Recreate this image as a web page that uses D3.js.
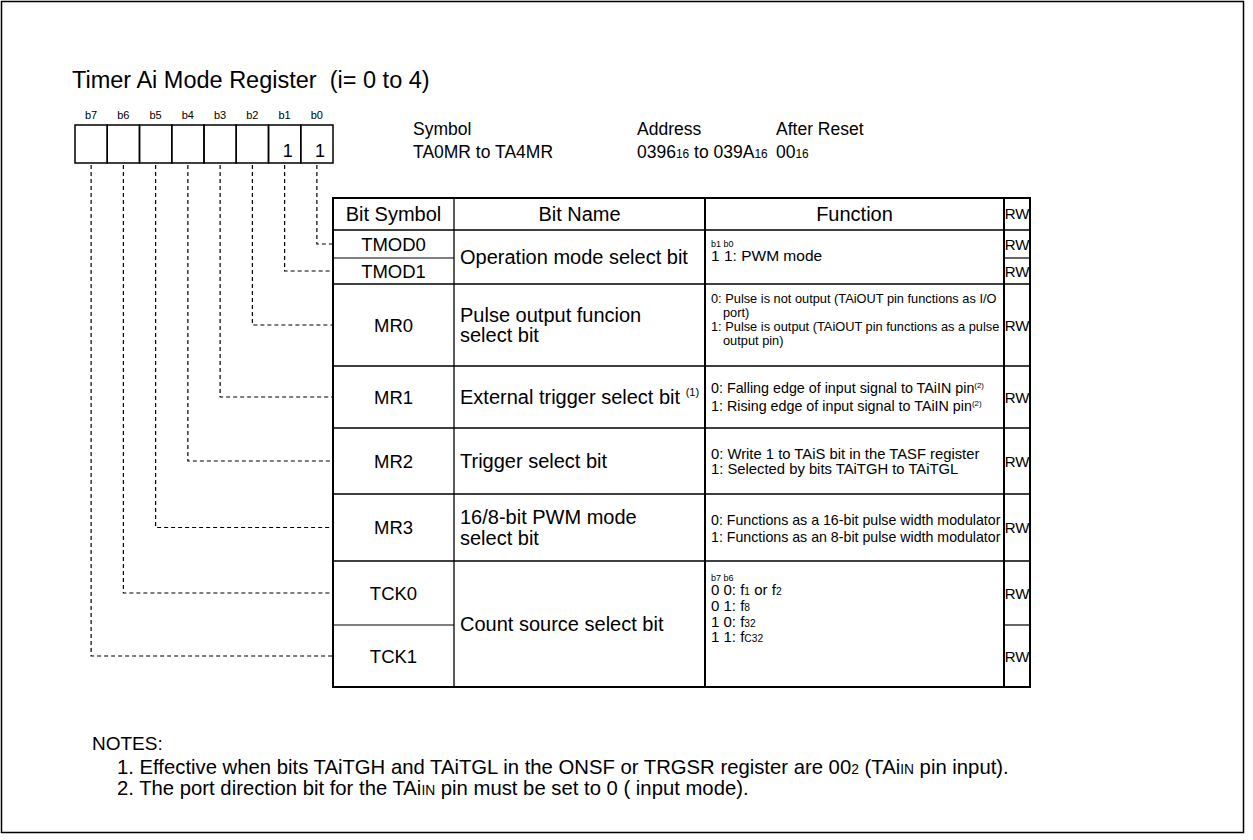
<!DOCTYPE html>
<html><head><meta charset="utf-8">
<script src="https://cdn.jsdelivr.net/npm/d3@7"></script>
<style>
body{margin:0;background:#fff}
svg text{font-family:"Liberation Sans",Arial,sans-serif;fill:#000}
</style>
</head><body>
<svg id="c" width="1253" height="840"></svg>
<script>
// ---------------- data ----------------
const title = "Timer Ai Mode Register  (i= 0 to 4)";
const bitLabels = ["b7","b6","b5","b4","b3","b2","b1","b0"];
const bitValues = ["","","","","","","1","1"];
const infoHeads = ["Symbol","Address","After Reset"];
const infoValues = ["TA0MR to TA4MR","0396{16} to 039A{16}","00{16}"];
const colHeads = ["Bit Symbol","Bit Name","Function","RW"];
const bitSymbols = ["TMOD0","TMOD1","MR0","MR1","MR2","MR3","TCK0","TCK1"];
const symbolBit = ["b0","b1","b2","b3","b4","b5","b6","b7"];
const rwValues = ["RW","RW","RW","RW","RW","RW","RW","RW"];
const groupRows = [[0,1],[2],[3],[4],[5],[6,7]];
const groupNames = [
  ["Operation mode select bit"],
  ["Pulse output funcion","select bit"],
  ["External trigger select bit ^{(1)}"],
  ["Trigger select bit"],
  ["16/8-bit PWM mode","select bit"],
  ["Count source select bit"]
];
const groupFnHead = ["b1 b0","","","","","b7 b6"];
const groupFn = [
  ["1 1: PWM mode"],
  ["0: Pulse is not output (TAiOUT pin functions as I/O","port)","1: Pulse is output (TAiOUT pin functions as a pulse","output pin)"],
  ["0: Falling edge of input signal to TAiIN pin^{(2)}","1: Rising edge of input signal to TAiIN pin^{(2)}"],
  ["0: Write 1 to TAiS bit in the TASF register","1: Selected by bits TAiTGH to TAiTGL"],
  ["0: Functions as a 16-bit pulse width modulator","1: Functions as an 8-bit pulse width modulator"],
  ["0 0: f{1} or f{2}","0 1: f{8}","1 0: f{32}","1 1: f{C32}"]
];
const notesHead = "NOTES:";
const notes = [
  "1. Effective when bits TAiTGH and TAiTGL in the ONSF or TRGSR register are 00{2} (TAi{IN} pin input).",
  "2. The port direction bit for the TAi{IN} pin must be set to 0 ( input mode)."
];

// ---------------- layout ----------------
const svg = d3.select("#c");
const colX = [333, 454, 705, 1004, 1030];
const tableTop = 198, headH = 32;
const rowH = [28, 26, 82, 62, 66, 67, 64, 62];
const rowEdges = [tableTop + headH, ...d3.cumsum(rowH).map(v => v + tableTop + headH)];
const rowY = i => rowEdges[i];
const rowMid = i => (rowEdges[i] + rowEdges[i+1]) / 2;
const fnSize = [15.5, 12.8, 14.3, 14.8, 14.2, 15];
const fnStart = [26, 15, 22, 26, 26, 29];
const fnGap = [0, 13.8, 18, 15, 17, 15.7];
const nameSize = 20, nameGap = 20.5;
const symSize = 18.5, headSize = 20, infoSize = 17.5, noteSize = 20.3;

const xBit = d3.scaleBand().domain(bitLabels).range([75, 333]);
const boxTop = 125, boxBot = 163;

// rich text helper: {x} = smaller text on baseline, ^{x} = superscript
function rich(sel, str, size) {
  const re = /(\^?)\{([^}]*)\}/g;
  let last = 0, m;
  const parts = [];
  while ((m = re.exec(str)) !== null) {
    if (m.index > last) parts.push([str.slice(last, m.index), "n"]);
    parts.push([m[2], m[1] ? "sup" : "sub"]);
    last = re.lastIndex;
  }
  if (last < str.length) parts.push([str.slice(last), "n"]);
  let shift = 0;
  parts.forEach(([t, k]) => {
    const ts = sel.append("tspan").text(t);
    let target = 0, fs = size;
    if (k === "sub") { fs = size * 0.68; target = 0; }
    if (k === "sup") { fs = size * 0.55; target = -size * 0.38; }
    ts.attr("font-size", fs).attr("dy", target - shift);
    shift = target;
  });
  return sel;
}

// outer frame
svg.append("rect").attr("x", 1.5).attr("y", 1.5).attr("width", 1242).attr("height", 831)
  .attr("fill", "none").attr("stroke", "#000").attr("stroke-width", 1.5);

// title
svg.append("text").attr("x", 72).attr("y", 88).attr("font-size", 23.5).attr("xml:space","preserve").text(title);

// bit labels and boxes
svg.selectAll(".bl").data(bitLabels).join("text")
  .attr("x", d => xBit(d) + xBit.bandwidth()/2).attr("y", 119)
  .attr("text-anchor", "middle").attr("font-size", 11).text(d => d);
svg.selectAll(".bx").data(bitLabels).join("rect")
  .attr("x", d => xBit(d)).attr("y", boxTop).attr("width", xBit.bandwidth()).attr("height", boxBot - boxTop)
  .attr("fill", "none").attr("stroke", "#000").attr("stroke-width", 1.5);
svg.selectAll(".bv").data(bitLabels).join("text")
  .attr("x", d => xBit(d) + xBit.bandwidth() - 8).attr("y", 157)
  .attr("text-anchor", "end").attr("font-size", 18).text((d, i) => bitValues[i]);

// symbol / address / reset block
const infoX = [413, 637, 776];
infoHeads.forEach((h, i) => {
  svg.append("text").attr("x", infoX[i]).attr("y", 135).attr("font-size", infoSize).text(h);
  rich(svg.append("text").attr("x", infoX[i]).attr("y", 158).attr("font-size", infoSize), infoValues[i], infoSize);
});

// dashed connectors
const dash = svg.append("g").attr("fill", "none").attr("stroke", "#000").attr("stroke-width", 1.2).attr("stroke-dasharray", "4,3");
bitSymbols.forEach((s, i) => {
  const bx = xBit(symbolBit[i]) + xBit.bandwidth()/2;
  const y = rowMid(i);
  dash.append("path").attr("d", `M${bx},${boxBot + 2}V${y}H${colX[0]}`);
});

// table lines
const tbl = svg.append("g").attr("stroke", "#000").attr("fill", "none");
const tableBot = rowEdges[rowEdges.length - 1];
tbl.append("rect").attr("x", colX[0]).attr("y", tableTop).attr("width", colX[4] - colX[0]).attr("height", tableBot - tableTop).attr("stroke-width", 2);
colX.slice(1, 4).forEach(x => tbl.append("line").attr("x1", x).attr("x2", x).attr("y1", tableTop).attr("y2", tableBot).attr("stroke-width", x === colX[1] ? 1.3 : 2));
tbl.append("line").attr("x1", colX[0]).attr("x2", colX[4]).attr("y1", tableTop + headH).attr("y2", tableTop + headH).attr("stroke-width", 1.6);
const groupEnd = new Set(groupRows.map(g => g[g.length - 1]));
for (let i = 0; i < bitSymbols.length - 1; i++) {
  const y = rowY(i + 1);
  if (groupEnd.has(i)) {
    tbl.append("line").attr("x1", colX[0]).attr("x2", colX[4]).attr("y1", y).attr("y2", y).attr("stroke-width", 1.6);
  } else {
    tbl.append("line").attr("x1", colX[0]).attr("x2", colX[1]).attr("y1", y).attr("y2", y).attr("stroke-width", 1.2);
    tbl.append("line").attr("x1", colX[3]).attr("x2", colX[4]).attr("y1", y).attr("y2", y).attr("stroke-width", 1.2);
  }
}

// header text
colHeads.forEach((h, i) => {
  const fs = i === 3 ? 15 : headSize;
  svg.append("text").attr("x", (colX[i] + colX[i+1]) / 2).attr("y", tableTop + headH/2 + fs * 0.36)
    .attr("text-anchor", "middle").attr("font-size", fs).text(h);
});

// bit symbols + RW
bitSymbols.forEach((s, i) => {
  svg.append("text").attr("x", (colX[0] + colX[1]) / 2).attr("y", rowMid(i) + symSize * 0.36)
    .attr("text-anchor", "middle").attr("font-size", symSize).text(s);
  svg.append("text").attr("x", (colX[3] + colX[4]) / 2).attr("y", rowMid(i) + 5.5)
    .attr("text-anchor", "middle").attr("font-size", 15).text(rwValues[i]);
});

// names + functions
groupRows.forEach((rows, g) => {
  const top = rowY(rows[0]), bot = rowY(rows[rows.length - 1] + 1);
  const mid = (top + bot) / 2;
  const names = groupNames[g];
  names.forEach((n, k) => {
    const y = mid + (k - (names.length - 1) / 2) * nameGap + nameSize * 0.35;
    rich(svg.append("text").attr("x", colX[1] + 6).attr("y", y).attr("font-size", nameSize), n, nameSize);
  });
  const fs = fnSize[g];
  const y0 = top + fnStart[g];
  if (groupFnHead[g]) {
    svg.append("text").attr("x", colX[2] + 6).attr("y", y0 - 12 + 3).attr("font-size", 9).text(groupFnHead[g]);
  }
  groupFn[g].forEach((line, k) => {
    const indent = /^\d/.test(line) ? 0 : 12;
    rich(svg.append("text").attr("x", colX[2] + 6 + indent).attr("y", y0 + k * fnGap[g] + fs * 0.35).attr("font-size", fs), line, fs);
  });
});

// notes
svg.append("text").attr("x", 92).attr("y", 750).attr("font-size", 19).text(notesHead);
notes.forEach((n, i) => {
  rich(svg.append("text").attr("x", 117).attr("y", 774 + i * 21).attr("font-size", noteSize), n, noteSize);
});
</script>
</body></html>
